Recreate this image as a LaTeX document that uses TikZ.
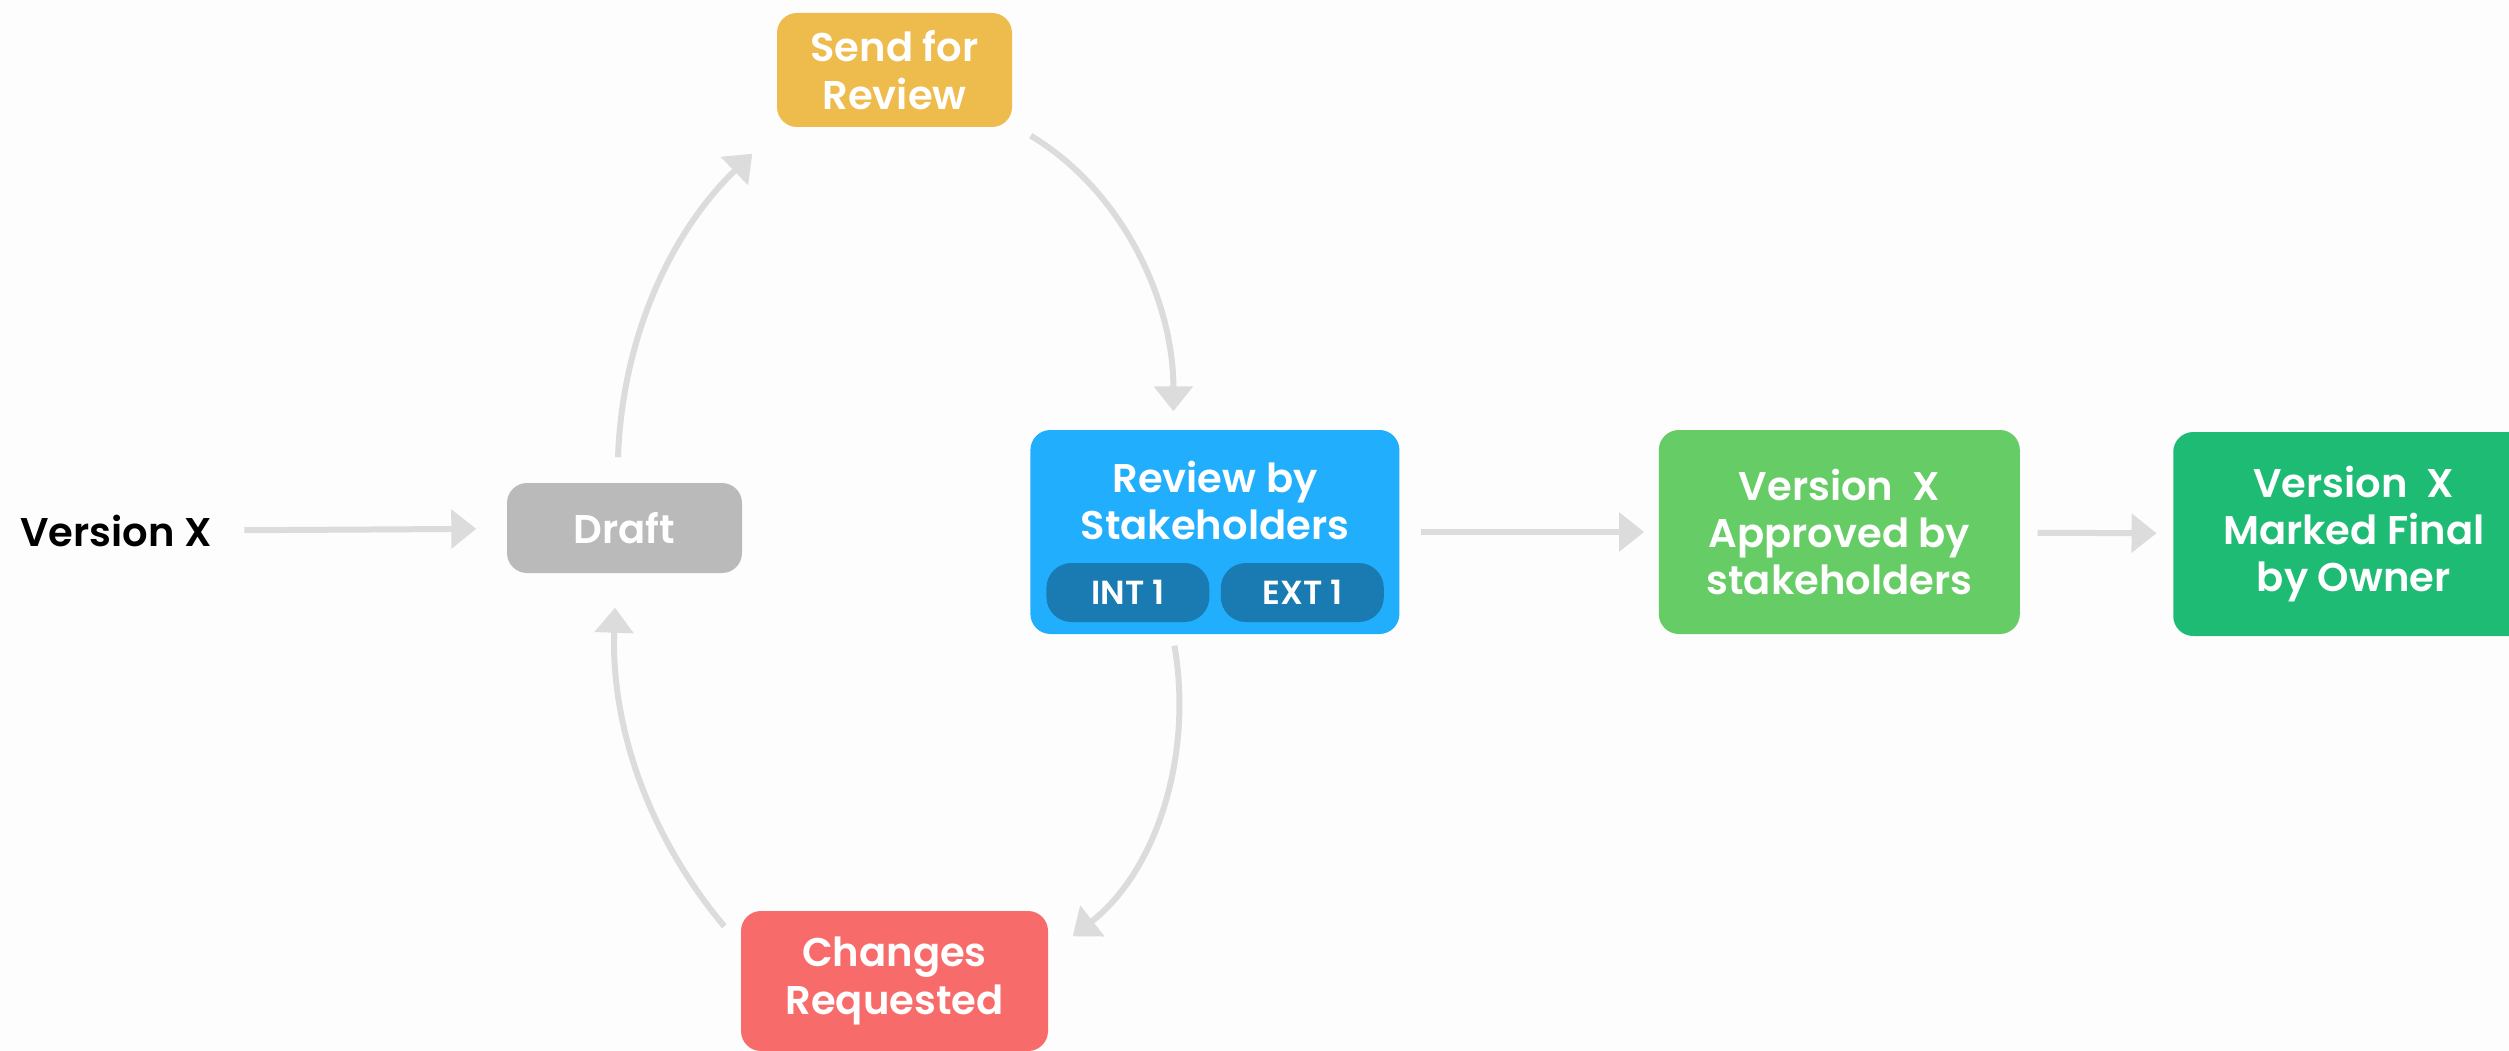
\documentclass[tikz,border=0pt]{standalone}
\usepackage{fontspec}
\setmainfont{Poppins}[BoldFont={Poppins SemiBold}]
\usepackage{tikz}
\usepackage{xcolor}
\usetikzlibrary{shapes, arrows.meta, positioning}
\definecolor{pageWhite}{HTML}{FDFDFD}
\definecolor{arrowGray}{HTML}{DCDCDC}
\definecolor{draftGray}{HTML}{BABABA}
\definecolor{sendAmber}{HTML}{EEBB4D}
\definecolor{reviewBlue}{HTML}{21AEFC}
\definecolor{pillBlue}{HTML}{1A7BB2}
\definecolor{approvedGreen}{HTML}{66CC66}
\definecolor{finalGreen}{HTML}{1DBB73}
\definecolor{changesRed}{HTML}{F76C6B}
\tikzset{%
>={Triangle[width=3.8mm,length=2.5mm]},
% Specifications for style of nodes:
base/.style = {rounded corners=2mm, minimum width=2.35cm, text centered, align=center, text=white, font=\bfseries\fontsize{11.4}{13.5}\selectfont},
stage/.style = {base, rectangle},
pill/.style = {base, rounded corners=2.5mm, fill=pillBlue, minimum width=1.63cm, minimum height=0.59cm, inner sep=0pt, font=\bfseries\fontsize{9.5}{11}\selectfont},
flow/.style = {draw=arrowGray, line width=0.6mm, ->},
}

\begin{document}
\begin{tikzpicture}
    \useasboundingbox [fill=pageWhite] (0,0) rectangle (25.09,-10.51);
    % Specification of nodes (position, etc.)
    \node (draft) [stage, fill=draftGray, minimum height=0.9cm] at (6.245,-5.28) {Draft};
    \node (versionX) [left=2.94cm of draft, yshift=-0.03cm, inner sep=0pt, font=\bfseries\fontsize{11.4}{13.5}\selectfont] {Version X};
    \node (sendReview) [stage, fill=sendAmber, minimum height=1.14cm] at (8.945,-0.70) {Send for\\Review};
    \node (review) [stage, fill=reviewBlue, minimum width=3.69cm, minimum height=2.04cm, right=2.87cm of draft, yshift=-0.04cm] {};
    \node (reviewText) [font=\bfseries\fontsize{11.4}{13.5}\selectfont, text=white, align=center] at ([yshift=-0.71cm]review.north) {Review by\\Stakeholders};
    \node (intPill) [pill, anchor=south west] at ([xshift=0.16cm, yshift=0.12cm]review.south west) {INT 1};
    \node (extPill) [pill, right=0.10cm of intPill] {EXT 1};
    \node (approved) [stage, fill=approvedGreen, minimum width=3.61cm, minimum height=2.04cm, right=2.58cm of review] {Version~~X\\Approved by\\stakeholders};
    \node (final) [stage, fill=finalGreen, minimum width=3.61cm, minimum height=2.04cm, right=1.52cm of approved, yshift=-0.02cm] {Version~~X\\Marked Final\\by Owner};
    \node (changes) [stage, fill=changesRed, minimum width=3.07cm, minimum height=1.40cm] at (8.945,-9.81) {Changes\\Requested};

    \draw [flow, shorten <=0.32cm, shorten >=0.30cm] (versionX) -- (draft);
    \draw [flow] ([xshift=-0.065cm, yshift=0.25cm]draft.north) to[out=88, in=224, looseness=0.9] ([xshift=-0.24cm, yshift=-0.26cm]sendReview.south west);
    \draw [flow] ([xshift=0.18cm, yshift=-0.08cm]sendReview.south east) to[out=-31, in=90, looseness=0.9] ([xshift=-0.415cm, yshift=0.18cm]review.north);
    \draw [flow] ([xshift=-0.405cm, yshift=-0.11cm]review.south) to[out=-80, in=38, looseness=0.9] ([xshift=0.24cm, yshift=-0.26cm]changes.north east);
    \draw [flow] ([xshift=-0.16cm, yshift=-0.16cm]changes.north west) to[out=130, in=-92, looseness=0.9] ([xshift=-0.095cm, yshift=-0.34cm]draft.south);
    \draw [flow, shorten <=0.21cm, shorten >=0.14cm] (review) -- (approved);
    \draw [flow, shorten <=0.17cm, shorten >=0.16cm] (approved) -- (final);
\end{tikzpicture}
\end{document}
